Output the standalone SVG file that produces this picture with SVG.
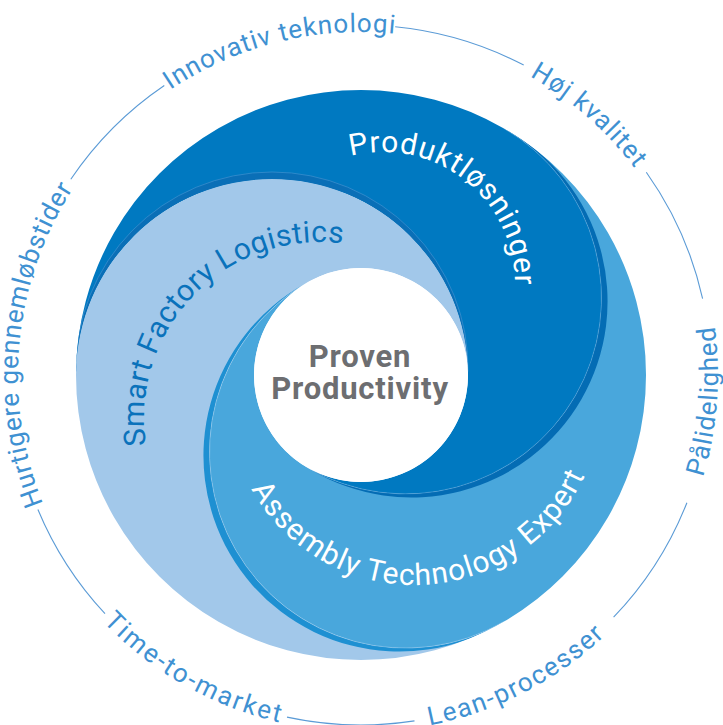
<svg xmlns="http://www.w3.org/2000/svg" xmlns:xlink="http://www.w3.org/1999/xlink" width="723" height="725" viewBox="0 0 723 725">
<style>
.ring{fill:none;stroke:#5b9bd6;stroke-width:1.1}
.outer{font-family:Roboto,"Liberation Sans",sans-serif;font-size:26px;fill:#3f91d2;letter-spacing:1px}
.inner{font-family:Roboto,"Liberation Sans",sans-serif;font-size:30px}
.center{font-family:Roboto,"Liberation Sans",sans-serif;font-size:31px;font-weight:bold;fill:#6d6e71;text-anchor:middle;letter-spacing:0.8px}
.seam{fill:none;stroke-width:0.8}
</style>
<defs>
<path id="cwOuter" d="M 704,375 A 343 343 0 1 1 18,375 A 343 343 0 1 1 704,375"/>
<path id="ccwOuter" d="M 4,375 A 357 357 0 1 0 718,375 A 357 357 0 1 0 4,375"/>
<path id="pProdukt" d="M 515,284 A 132 132 0 1 1 251,284 A 132 132 0 1 1 515,284"/>
<path id="pSmart" d="M 496,418 A 176 176 0 1 1 144,418 A 176 176 0 1 1 496,418"/>
<path id="pAssembly" d="M 227.5,398 A 187 187 0 1 0 601.5,398 A 187 187 0 1 0 227.5,398"/>
<clipPath id="big"><circle cx="361" cy="375" r="285"/></clipPath>
</defs>
<rect width="723" height="725" fill="#ffffff"/>

<g id="outer-ring">
<path class="ring" d="M 70.8,179.3 A 350 350 0 0 1 164.3,85.5"/>
<path class="ring" d="M 395.2,26.7 A 350 350 0 0 1 523.7,65.1"/>
<path class="ring" d="M 646.3,172.2 A 350 350 0 0 1 702.6,298.7"/>
<path class="ring" d="M 686.9,502.7 A 350 350 0 0 1 613.6,617.2"/>
<path class="ring" d="M 414.5,720.9 A 350 350 0 0 1 287.0,717.1"/>
<path class="ring" d="M 105.0,613.7 A 350 350 0 0 1 37.9,509.5"/>
</g>

<g id="outer-labels">
<text class="outer" text-anchor="middle" style="letter-spacing:0.8px"><textPath href="#cwOuter" xlink:href="#cwOuter" startOffset="1110">Hurtigere gennemløbstider</textPath></text>
<text class="outer" text-anchor="middle"><textPath href="#cwOuter" xlink:href="#cwOuter" startOffset="1532">Innovativ teknologi</textPath></text>
<text class="outer" text-anchor="middle"><textPath href="#cwOuter" xlink:href="#cwOuter" startOffset="1862.7">Høj kvalitet</textPath></text>
<text class="outer" text-anchor="middle"><textPath href="#ccwOuter" xlink:href="#ccwOuter" startOffset="1094.1">Pålidelighed</textPath></text>
<text class="outer" text-anchor="middle" style="letter-spacing:1.6px"><textPath href="#ccwOuter" xlink:href="#ccwOuter" startOffset="730">Lean-processer</textPath></text>
<text class="outer" text-anchor="middle" style="letter-spacing:2.2px"><textPath href="#ccwOuter" xlink:href="#ccwOuter" startOffset="376.3">Time-to-market</textPath></text>
</g>

<g id="piece-produktlosninger">
<path fill="#0079c1" d="M 76,375 A 285 285 0 0 1 503.5,128.18 A 196 196 0 0 1 575.24,395.92 A 196 196 0 0 1 307.5,467.66 A 107 107 0 0 0 468,375 A 196 196 0 0 0 272,179 A 196 196 0 0 0 76,375 Z"/>
</g>
<g id="piece-assembly">
<path fill="#49a7dc" d="M 503.5,128.18 A 285 285 0 0 1 503.5,621.82 A 196 196 0 0 1 235.76,550.08 A 196 196 0 0 1 307.5,282.34 A 107 107 0 0 0 307.5,467.66 A 196 196 0 0 0 575.24,395.92 A 196 196 0 0 0 503.5,128.18 Z"/>
</g>
<g id="piece-smart-factory">
<path fill="#a2c8ea" d="M 503.5,621.82 A 285 285 0 0 1 76,375 A 196 196 0 0 1 272,179 A 196 196 0 0 1 468,375 A 107 107 0 0 0 307.5,282.34 A 196 196 0 0 0 235.76,550.08 A 196 196 0 0 0 503.5,621.82 Z"/>
</g>

<g id="edge-bands" clip-path="url(#big)">
<path fill="#046cb4" d="M 506.51,129.96 A 196 196 0 0 1 581.30,399.42 A 196 196 0 0 1 310.55,469.38 A 196 196 0 0 0 575.24,395.92 A 196 196 0 0 0 506.51,129.96 Z"/>
<path fill="#1e90d2" d="M 500.45,623.54 A 196 196 0 0 1 229.70,553.58 A 196 196 0 0 1 304.49,284.12 A 196 196 0 0 0 235.76,550.08 A 196 196 0 0 0 500.45,623.54 Z"/>
<path fill="#0a6fb7" d="M 76.03,371.5 A 196 196 0 0 1 272,172 A 196 196 0 0 1 467.97,371.5 A 196 196 0 0 0 272,179 A 196 196 0 0 0 76.03,371.5 Z"/>
<path class="seam" stroke="#6fb2e2" stroke-opacity="0.6" d="M 503.5,128.18 A 196 196 0 0 1 575.24,395.92 A 196 196 0 0 1 307.5,467.66"/>
<path class="seam" stroke="#a9d2f0" stroke-opacity="0.6" d="M 503.5,621.82 A 196 196 0 0 1 235.76,550.08 A 196 196 0 0 1 307.5,282.34"/>
<path class="seam" stroke="#5aa2dc" stroke-opacity="0.6" d="M 76.03,371.5 A 196 196 0 0 1 272,172 A 196 196 0 0 1 467.97,371.5"/>
</g>

<g id="label-produktlosninger">
<text class="inner" fill="#ffffff" style="letter-spacing:0.9px"><textPath href="#pProdukt" xlink:href="#pProdukt" startOffset="588.9">Produktløsninger</textPath></text>
</g>
<g id="label-smart-factory">
<text class="inner" fill="#0a72bb" style="letter-spacing:0.45px"><textPath href="#pSmart" xlink:href="#pSmart" startOffset="525.3">Smart Factory Logistics</textPath></text>
</g>
<g id="label-assembly">
<text class="inner" fill="#ffffff" style="letter-spacing:1.1px"><textPath href="#pAssembly" xlink:href="#pAssembly" startOffset="95">Assembly Technology Expert</textPath></text>
</g>

<g id="center">
<circle cx="361" cy="375" r="107" fill="#ffffff"/>
<text class="center" x="360" y="367">Proven</text>
<text class="center" x="360" y="399">Productivity</text>
</g>
</svg>
